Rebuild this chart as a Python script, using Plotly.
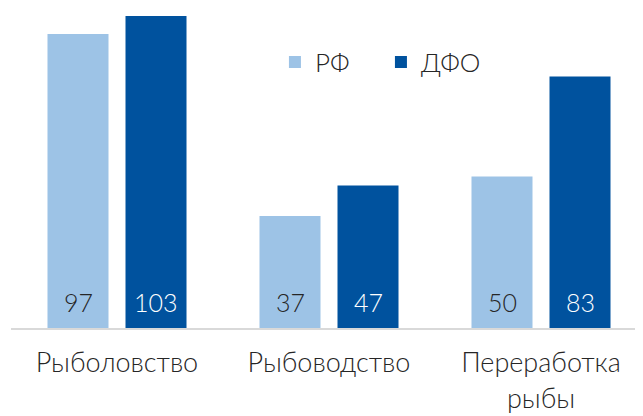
import plotly.graph_objects as go

categories = ["Рыболовство", "Рыбоводство", "Переработка<br>рыбы"]
rf_values = [97, 37, 50]
dfo_values = [103, 47, 83]
series_names = ["РФ", "ДФО"]

FONT = "Lato"
W = 300
fig = go.Figure()
fig.add_trace(go.Bar(
    x=categories, y=rf_values, name=series_names[0],
    marker=dict(color="#9DC3E6", line=dict(width=0)),
))
fig.add_trace(go.Bar(
    x=categories, y=dfo_values, name=series_names[1],
    marker=dict(color="#00529E", line=dict(width=0)),
))
for cat, v in zip(categories, rf_values):
    fig.add_annotation(x=cat, y=0, xref="x", yref="y", text=str(v), showarrow=False,
                       xshift=-39, yshift=9, yanchor="bottom",
                       font=dict(family=FONT, size=25, color="#262626", weight=W))
for cat, v in zip(categories, dfo_values):
    fig.add_annotation(x=cat, y=0, xref="x", yref="y", text=str(v), showarrow=False,
                       xshift=39, yshift=9, yanchor="bottom",
                       font=dict(family=FONT, size=25, color="#FFFFFF", weight=W))
fig.update_layout(
    width=643, height=416,
    margin=dict(l=3, r=4, t=0, b=96),
    paper_bgcolor="white", plot_bgcolor="white",
    barmode="group", bargap=0.264, bargroupgap=0.218,
    font=dict(family=FONT, size=26, color="#262626", weight=W),
    legend=dict(orientation="h", x=0.415, y=0.831, xanchor="left", yanchor="middle",
                font=dict(family=FONT, size=26, color="#262626", weight=W),
                entrywidth=61, entrywidthmode="pixels",
                bgcolor="rgba(0,0,0,0)", traceorder="normal"),
    xaxis=dict(showgrid=False, showline=True, linecolor="#D9D9D9", linewidth=2,
               ticks="", automargin=False, ticklabelstandoff=10,
               tickfont=dict(family=FONT, size=27, color="#262626", weight=W),
               range=[-0.5, 2.5]),
    yaxis=dict(showgrid=False, showticklabels=False, zeroline=False, showline=False,
               automargin=False, range=[0, 105.6]),
)
fig.write_html("out.html")
